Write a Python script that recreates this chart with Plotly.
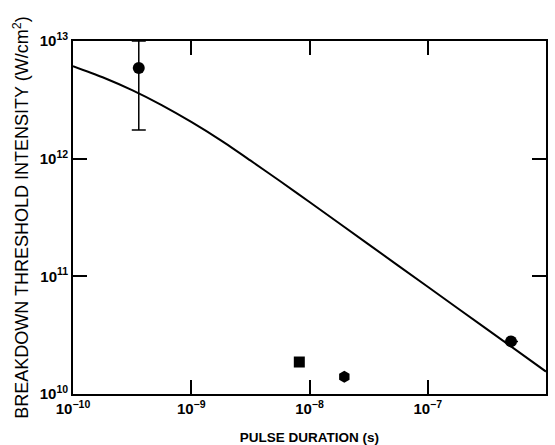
import plotly.graph_objects as go

# Theory curve
curve_x = [1e-10, 1.78e-10, 3.16e-10, 5.62e-10, 1e-9, 1.78e-9, 3.16e-9, 5.62e-9, 1e-8,
           3.16e-8, 1e-7, 3.16e-7, 1e-6]
curve_y = [6.12e12, 4.92e12, 3.82e12, 2.85e12, 2.05e12, 1.43e12, 9.66e11, 6.46e11, 4.28e11,
           1.87e11, 8.15e10, 3.56e10, 1.55e10]

# Measured points
circ_x = [3.6e-10, 5.06e-7]
circ_y = [5.9e12, 2.8e10]
circ_err_plus = [4.1e12, 0]
circ_err_minus = [4.15e12, 0]
square_x = [8.2e-9]
square_y = [1.87e10]
hex_x = [1.97e-8]
hex_y = [1.4e10]

x_ticks = [1e-10, 1e-9, 1e-8, 1e-7, 1e-6]
x_tick_text = ["10<sup>−10</sup>", "10<sup>−9</sup>", "10<sup>−8</sup>", "10<sup>−7</sup>", "10<sup>−6</sup>"]
y_ticks = [1e10, 1e11, 1e12, 1e13]
y_tick_text = ["10<sup>10</sup>", "10<sup>11</sup>", "10<sup>12</sup>", "10<sup>13</sup>"]

fig = go.Figure()
fig.add_trace(go.Scatter(x=curve_x, y=curve_y, mode="lines",
                         line=dict(color="black", width=2, shape="spline", smoothing=0.8),
                         showlegend=False, hoverinfo="skip"))
fig.add_trace(go.Scatter(x=circ_x, y=circ_y, mode="markers",
                         marker=dict(symbol="circle", size=12, color="black"),
                         error_y=dict(type="data", symmetric=False, array=circ_err_plus,
                                      arrayminus=circ_err_minus, color="black",
                                      thickness=1.5, width=7),
                         showlegend=False))
fig.add_trace(go.Scatter(x=square_x, y=square_y, mode="markers",
                         marker=dict(symbol="square", size=11, color="black"),
                         showlegend=False))
fig.add_trace(go.Scatter(x=hex_x, y=hex_y, mode="markers",
                         marker=dict(symbol="hexagon", size=12, color="black"),
                         showlegend=False))

tickfont = dict(family="Liberation Sans, Arial, sans-serif", size=15, color="black", weight="bold")

fig.update_xaxes(type="log", range=[-10, -6], tickvals=x_ticks, ticktext=x_tick_text,
                 ticks="inside", ticklen=14, tickwidth=1.5, tickcolor="black",
                 showline=True, linecolor="black", linewidth=1.8, mirror="ticks",
                 showgrid=False, zeroline=False, tickfont=tickfont, automargin=False,
                 title=dict(text="PULSE DURATION (s)", standoff=18,
                            font=dict(family="Liberation Sans, Arial, sans-serif",
                                      size=13.5, color="black", weight="bold")))
fig.update_yaxes(type="log", range=[10, 13], tickvals=y_ticks, ticktext=y_tick_text,
                 ticks="inside", ticklen=14, tickwidth=1.5, tickcolor="black",
                 showline=True, linecolor="black", linewidth=1.8, mirror="ticks",
                 showgrid=False, zeroline=False, tickfont=tickfont, automargin=False,
                 title=dict(text="BREAKDOWN THRESHOLD INTENSITY (W/cm<sup>2</sup>)", standoff=6,
                            font=dict(family="Liberation Sans, Arial, sans-serif",
                                      size=18, color="black")))

fig.update_layout(width=555, height=445, margin=dict(l=73, r=9, t=41, b=51),
                  paper_bgcolor="white", plot_bgcolor="white")

fig.write_html("out.html", config={"displayModeBar": False},
               post_script="document.body.style.margin='0px';document.body.style.overflow='hidden';")
